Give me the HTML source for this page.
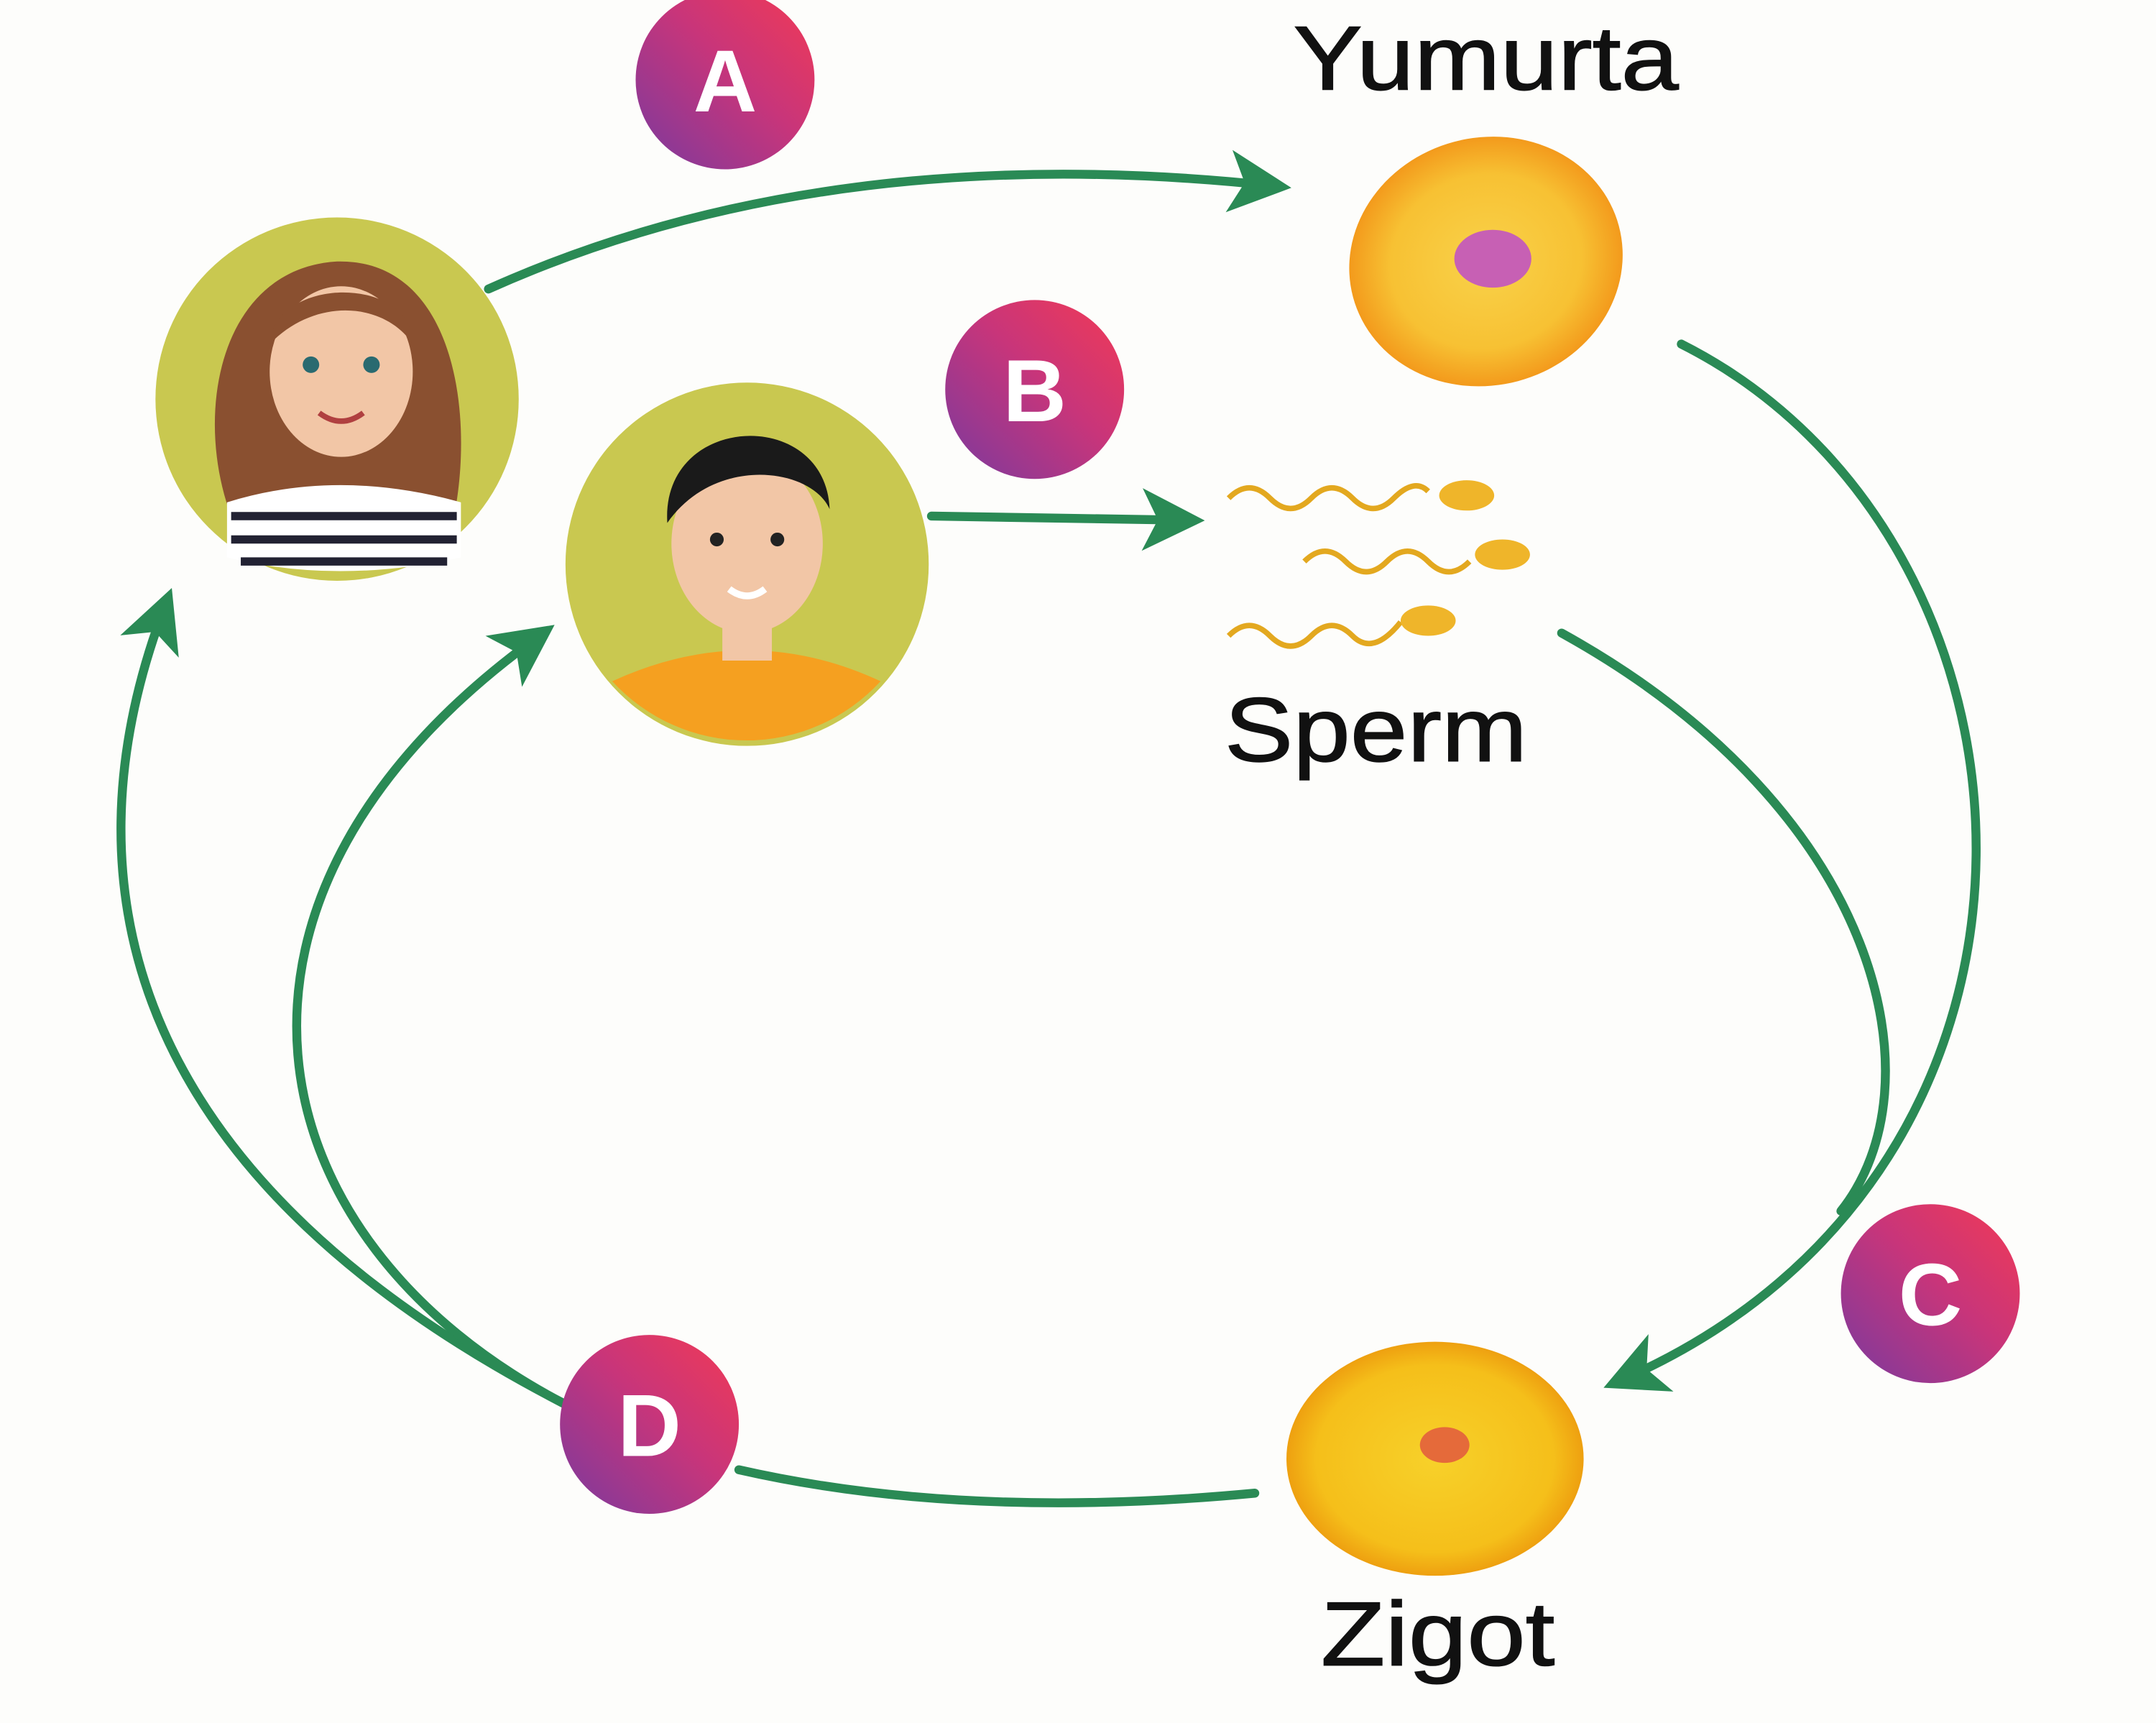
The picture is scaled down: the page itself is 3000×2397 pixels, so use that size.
<!DOCTYPE html>
<html><head><meta charset="utf-8"><style>
html,body{margin:0;padding:0;background:#fdfdfb;}
svg{display:block;}
text{font-family:"Liberation Sans",sans-serif;}
</style></head><body>
<svg width="3000" height="2397" viewBox="0 0 1567 1252" xmlns="http://www.w3.org/2000/svg">
<defs>
<linearGradient id="lab" x1="0" y1="1" x2="1" y2="0">
<stop offset="0" stop-color="#7a3a9e"/><stop offset="0.55" stop-color="#c8357a"/><stop offset="1" stop-color="#f23a55"/>
</linearGradient>
<radialGradient id="egg" cx="0.5" cy="0.5" r="0.5">
<stop offset="0" stop-color="#f9d24a"/><stop offset="0.7" stop-color="#f7c133"/><stop offset="1" stop-color="#f39a1c"/>
</radialGradient>
<radialGradient id="zig" cx="0.5" cy="0.5" r="0.5">
<stop offset="0" stop-color="#f7d12a"/><stop offset="0.8" stop-color="#f5bf1a"/><stop offset="1" stop-color="#eea010"/>
</radialGradient>
<marker id="ah" viewBox="0 0 10 10" refX="7" refY="5" markerWidth="7" markerHeight="7" orient="auto" markerUnits="strokeWidth">
<path d="M0,0 L10,5 L0,10 L2.5,5 Z" fill="#2a8a55"/>
</marker>
</defs>
<rect width="1567" height="1252" fill="#fdfdfb"/>

<g fill="none" stroke="#2a8a55" stroke-width="6.5" stroke-linecap="round">
<path d="M355,210 Q600,100 925,135" marker-end="url(#ah)"/>
<path d="M677,375 L862,378" marker-end="url(#ah)"/>
<path d="M1222,250 C1500,390 1530,850 1178,1003" marker-end="url(#ah)"/>
<path d="M1135,460 C1370,590 1410,790 1338,880"/>
<path d="M912,1085 Q700,1105 537,1068"/>
<path d="M410,1020 C100,860 40,650 120,440" marker-end="url(#ah)"/>
<path d="M410,1020 C180,900 130,650 392,462" marker-end="url(#ah)"/>
</g>

<!-- Egg -->
<ellipse cx="1080" cy="190" rx="100" ry="90" fill="url(#egg)" transform="rotate(-15 1080 190)"/>
<ellipse cx="1085" cy="188" rx="28" ry="21" fill="#c760b4"/>
<text x="940" y="65" font-size="66" fill="#111" textLength="280" lengthAdjust="spacingAndGlyphs" stroke="#111" stroke-width="0.8">Yumurta</text>

<!-- Sperm -->
<g fill="none" stroke="#e3a81f" stroke-width="4">
<path d="M893,362 q15,-15 30,0 t30,0 t30,0 t30,0 t25,-5"/>
<path d="M948,408 q15,-15 30,0 t30,0 t30,0 t30,0"/>
<path d="M893,462 q15,-15 30,0 t30,0 t30,0 t35,-10"/>
</g>
<g fill="#efb52a">
<ellipse cx="1066" cy="360" rx="20" ry="11"/>
<ellipse cx="1092" cy="403" rx="20" ry="11"/>
<ellipse cx="1038" cy="451" rx="20" ry="11"/>
</g>
<text x="890" y="553" font-size="66" fill="#111" textLength="220" lengthAdjust="spacingAndGlyphs" stroke="#111" stroke-width="0.8">Sperm</text>

<!-- Zigot -->
<ellipse cx="1043" cy="1060" rx="108" ry="85" fill="url(#zig)"/>
<ellipse cx="1050" cy="1050" rx="18" ry="13" fill="#e56a3a"/>
<text x="960" y="1210" font-size="66" fill="#111" textLength="170" lengthAdjust="spacingAndGlyphs" stroke="#111" stroke-width="0.8">Zigot</text>

<!-- Woman -->
<circle cx="245" cy="290" r="132" fill="#c9c850"/>
<path d="M168,375 C140,300 160,195 245,190 C330,188 345,300 330,375 Z" fill="#8a5030"/>
<path d="M165,365 Q245,340 335,365 L335,405 Q245,425 165,405 Z" fill="#fff"/>
<g stroke="#223" stroke-width="6"><line x1="168" y1="375" x2="332" y2="375"/><line x1="168" y1="392" x2="332" y2="392"/><line x1="175" y1="408" x2="325" y2="408"/></g>
<ellipse cx="248" cy="270" rx="52" ry="62" fill="#f2c6a6"/>
<circle cx="226" cy="265" r="6" fill="#2a6a70"/><circle cx="270" cy="265" r="6" fill="#2a6a70"/>
<path d="M232,300 Q248,312 264,300" stroke="#b04040" stroke-width="4" fill="none"/>
<path d="M196,250 C200,200 300,200 300,250 C280,220 230,215 196,250Z" fill="#8a5030"/>

<!-- Man -->
<circle cx="543" cy="410" r="132" fill="#c9c850"/>
<path d="M445,495 Q543,450 640,495 A132,132 0 0 1 445,495Z" fill="#f5a020"/>
<rect x="525" y="440" width="36" height="40" fill="#f2c6a6"/>
<ellipse cx="543" cy="395" rx="55" ry="65" fill="#f2c6a6"/>
<path d="M485,380 C480,300 600,295 603,370 C590,340 520,330 485,380Z" fill="#1a1a1a"/>
<circle cx="521" cy="392" r="5" fill="#222"/><circle cx="565" cy="392" r="5" fill="#222"/>
<path d="M530,428 Q543,438 556,428" stroke="#fff" stroke-width="5" fill="none"/>

<!-- Labels -->
<g font-size="64" font-weight="bold" fill="#fff" text-anchor="middle">
<circle cx="527" cy="58" r="65" fill="url(#lab)"/><text x="527" y="81">A</text>
<circle cx="752" cy="283" r="65" fill="url(#lab)"/><text x="752" y="306">B</text>
<circle cx="1403" cy="940" r="65" fill="url(#lab)"/><text x="1403" y="963">C</text>
<circle cx="472" cy="1035" r="65" fill="url(#lab)"/><text x="472" y="1058">D</text>
</g>
</svg>
</body></html>
